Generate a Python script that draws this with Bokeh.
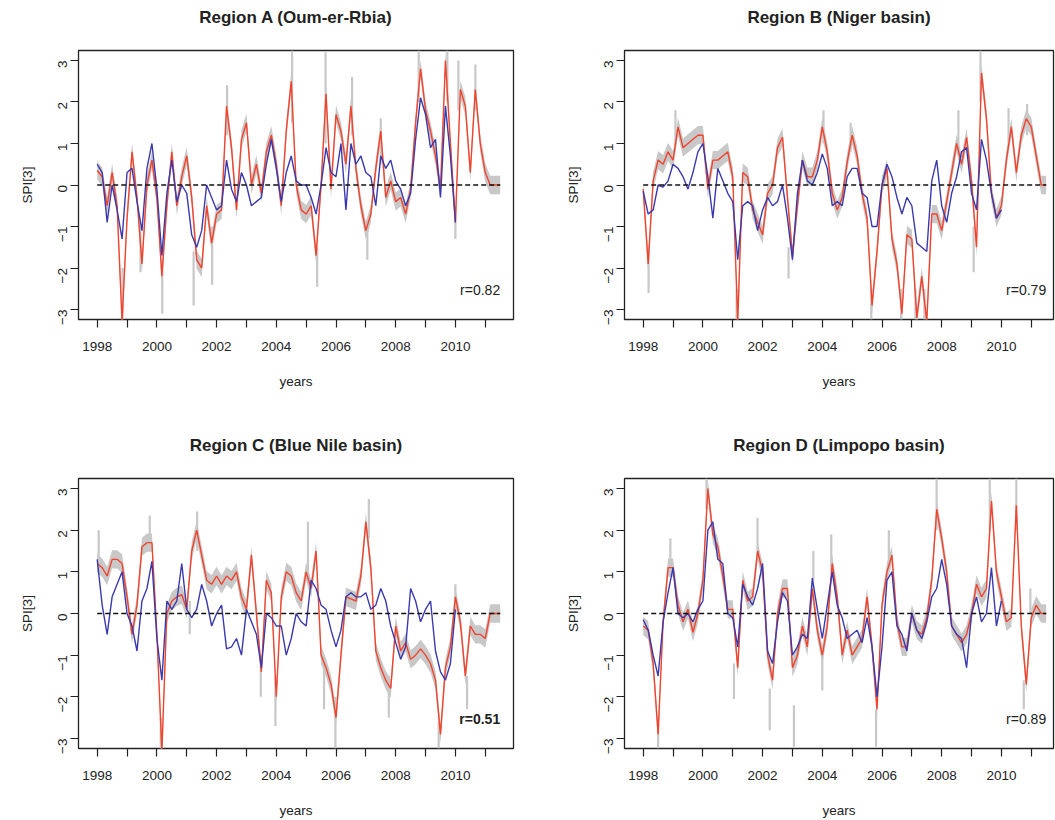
import math
from bokeh.plotting import figure
from bokeh.layouts import column, row
from bokeh.models import Range1d, FixedTicker, Label, Title
from bokeh.embed import file_html
from bokeh.resources import INLINE

FONT = "Liberation Sans"

# ---------------- data (SPI[3], bi-monthly readings from 1998.0) ----------------
n_red, n_blue = 82, 73
years_red = [1998 + i / 6 for i in range(n_red)]
years_blue = years_red[:n_blue]
tick_years = list(range(1998, 2012))
tick_labels = {y: (str(y) if y % 2 == 0 else "") for y in tick_years}
y_ticks = [-3, -2, -1, 0, 1, 2, 3]

red_A = [0.35, 0.2, -0.5, 0.3, -0.5, -3.3, -0.8, 0.8, -0.3, -1.9,
         0.0, 0.6, -0.3, -2.2, -0.5, 0.8, -0.5, 0.2, 0.7, -0.3,
         -1.8, -2.0, -0.5, -1.4, -0.7, -0.6, 1.9, 0.9, -0.6, 1.1,
         1.5, 0.0, 0.5, -0.2, 0.8, 1.2, 0.5, -0.5, 1.3, 2.5,
         0.0, -0.6, -0.7, -0.5, -1.7, 0.0, 2.2, -0.1, 1.7, 1.3,
         0.5, 1.9, 0.4, -0.5, -1.1, -0.7, 0.4, 1.3, -0.3, 0.1,
         -0.4, -0.3, -0.7, -0.1, 1.5, 2.8, 1.8, 1.3, 0.7, -0.1,
         3.0, 1.0, -0.9, 2.3, 1.9, 0.3, 2.3, 1.0, 0.3, 0.0,
         0.0, 0.0]
blue_A = [0.5, 0.3, -0.9, 0.0, -0.6, -1.3, 0.3, 0.4, -0.4, -1.1,
          0.4, 1.0, -0.1, -1.7, -0.2, 0.6, -0.4, 0.0, -0.2, -1.2,
          -1.5, -1.1, 0.0, -0.3, -0.6, -0.5, 0.6, -0.1, -0.4, 0.3,
          0.0, -0.5, -0.4, -0.3, 0.5, 1.1, 0.4, -0.4, 0.3, 0.7,
          0.1, 0.0, 0.0, -0.3, -0.7, 0.0, 0.9, 0.3, 0.2, 1.0,
          -0.6, 1.0, 0.5, 0.7, 0.3, 0.2, -0.5, 0.7, 0.4, 0.6,
          0.1, -0.1, -0.5, -0.2, 1.1, 2.1, 1.7, 0.9, 1.1, -0.3,
          1.9, 0.7, -0.9]
spike_x_A = [1998.85, 1999.45, 2000.18, 2001.23, 2001.85, 2002.35, 2004.53, 2005.37, 2005.65,
             2006.54, 2007.05, 2007.5, 2008.77, 2009.73, 2010.0, 2010.1, 2010.67]
spike_lo_A = [-3.24, -2.1, -3.1, -2.9, -2.4, 1.2, 1.5, -2.45, 1.0, 1.2, -1.8, 0.5, 2.0, 2.0, -1.3, 1.8, 1.8]
spike_hi_A = [-2.0, -1.0, -1.8, -1.6, -1.0, 2.4, 3.24, -1.5, 3.2, 2.6, -1.0, 1.6, 3.24, 3.24, -0.5, 3.0, 2.9]

red_B = [-0.1, -1.9, 0.1, 0.6, 0.5, 0.8, 0.6, 1.4, 0.9, 1.0,
         1.1, 1.2, 1.2, -0.1, 0.6, 0.6, 0.7, 0.8, 0.2, -3.3,
         0.3, 0.2, -0.6, -0.9, -1.2, -0.2, 0.0, 0.9, 1.15, -0.3,
         -1.7, -0.5, 0.6, 0.2, 0.2, 0.6, 1.4, 0.8, -0.2, -0.6,
         -0.3, 0.55, 1.2, 0.7, -0.2, -0.8, -2.9, -1.6, 0.0, 0.4,
         -1.3, -1.9, -3.1, -1.2, -1.3, -3.2, -2.2, -3.3, -0.7, -0.7,
         -1.1, -0.4, 0.3, 1.0, 0.5, 1.15, 0.1, -1.5, 2.7, 1.6,
         -0.2, -0.8, -0.5, 0.6, 1.4, 0.3, 1.2, 1.6, 1.4, 0.7,
         0.0, 0.0]
blue_B = [-0.15, -0.7, -0.6, 0.0, -0.05, 0.1, 0.5, 0.4, 0.2, -0.1,
          0.3, 0.8, 1.0, 0.2, -0.8, 0.4, 0.1, -0.2, -0.4, -1.8,
          -0.5, -0.4, -0.5, -1.1, -0.6, -0.3, -0.5, -0.4, 0.0, -0.8,
          -1.8, -0.2, 0.6, 0.1, 0.0, 0.3, 0.75, 0.4, -0.5, -0.4,
          -0.5, 0.2, 0.4, 0.4, -0.2, -0.3, -1.0, -1.0, 0.0, 0.5,
          0.2, -0.3, -0.7, -0.3, -0.5, -1.4, -1.5, -1.6, 0.1, 0.6,
          -0.5, -0.9, -0.2, 0.2, 0.8, 0.9, -0.2, -0.6, 1.1, 0.6,
          -0.2, -0.8, -0.6]
spike_x_B = [1998.18, 1999.08, 2001.13, 2002.87, 2004.04, 2004.95, 2005.64, 2006.64, 2007.12,
             2007.42, 2008.56, 2009.07, 2009.3, 2010.24, 2010.86]
spike_lo_B = [-2.6, 1.0, -3.24, -2.25, 1.0, 0.8, -3.24, -3.24, -3.24, -3.24, 0.8, -2.1, 2.0, 1.0, 1.2]
spike_hi_B = [-1.5, 1.8, -2.5, -1.5, 1.8, 1.5, -2.5, -2.5, -2.5, -2.5, 1.8, -1.0, 3.24, 1.85, 1.95]

red_C = [1.2, 1.1, 0.9, 1.3, 1.3, 1.2, 0.4, -0.5, 0.2, 1.6,
         1.7, 1.7, -0.5, -3.3, 0.0, 0.3, 0.4, 0.45, 0.1, 1.5,
         2.0, 1.4, 0.8, 0.7, 0.9, 0.7, 0.9, 0.8, 1.0, 0.4,
         0.1, 1.4, 0.0, -1.4, 0.8, 0.5, -2.0, 0.4, 1.0, 0.9,
         0.5, 0.3, 1.0, 0.6, 1.5, -1.0, -1.3, -1.7, -2.5, -1.0,
         0.4, 0.35, 0.3, 0.9, 2.2, 1.1, -0.9, -1.3, -1.6, -1.8,
         -0.3, -0.9, -0.7, -1.1, -1.0, -0.85, -1.0, -1.2, -1.6, -2.9,
         -1.3, -0.8, 0.4, -0.2, -1.5, -0.3, -0.5, -0.5, -0.6, 0.0,
         0.0, 0.0]
blue_C = [1.3, 0.2, -0.5, 0.4, 0.7, 1.0, 0.0, -0.3, -0.9, 0.3,
          0.6, 1.25, -0.6, -1.6, 0.3, 0.1, 0.3, 1.2, 0.1, -0.1,
          0.1, 0.7, 0.3, -0.3, 0.0, 0.2, -0.85, -0.8, -0.6, -1.0,
          0.1, -0.2, -0.5, -1.3, 0.0, -0.1, -0.3, -0.3, -1.0, -0.6,
          0.0, -0.2, -0.3, 0.8, 0.6, 0.2, 0.1, -0.4, -0.8, -0.4,
          0.4, 0.5, 0.4, 0.4, 0.5, 0.1, 0.2, 0.6, 0.3, -0.3,
          -0.7, -1.1, -0.8, 0.6, 0.3, -0.2, 0.1, 0.3, -0.9, -1.4,
          -1.6, -1.2, 0.1]
spike_x_C = [1998.05, 1999.76, 2000.13, 2001.1, 2001.35, 2003.48, 2003.97, 2005.06, 2005.6,
             2005.98, 2007.1, 2007.77, 2009.44, 2010.0, 2010.39]
spike_lo_C = [1.0, 1.5, -3.24, -0.5, 1.5, -2.0, -2.7, 1.0, -2.3, -3.24, 1.8, -2.5, -3.24, 0.0, -2.3]
spike_hi_C = [2.0, 2.35, -2.5, 0.3, 2.45, -1.0, -1.5, 2.2, -1.0, -2.0, 2.75, -1.5, -2.6, 0.7, -1.5]

red_D = [-0.3, -0.4, -1.2, -2.9, -0.2, 1.1, 1.1, 0.2, -0.2, 0.1,
         -0.45, 0.0, 0.8, 3.0, 1.9, 1.6, 0.9, 0.1, 0.1, -1.3,
         0.8, 0.3, 0.4, 1.5, 1.0, -1.0, -1.6, 0.0, 0.6, 0.6,
         -1.3, -1.0, -0.3, -0.8, 0.6, -0.4, -1.0, -0.3, 1.2, 0.4,
         -1.0, -0.4, -1.0, -0.8, -0.6, 0.4, -0.8, -2.3, 0.2, 1.0,
         1.4, -0.2, -0.8, -0.8, 0.0, -0.4, -0.5, -0.1, 0.8, 2.5,
         1.8, 1.0, -0.3, -0.5, -0.7, -0.5, 0.0, 0.7, 0.4, 0.6,
         2.7, 1.0, 0.4, -0.2, -0.1, 2.6, -0.3, -1.7, -0.1, 0.2,
         0.0, 0.0]
blue_D = [-0.15, -0.4, -1.0, -1.5, -0.2, 0.5, 1.1, 0.0, -0.1, 0.0,
          -0.2, 0.1, 0.3, 2.0, 2.2, 1.3, 1.2, 0.0, -0.1, -0.8,
          0.7, 0.4, 0.2, 0.6, 1.2, -0.9, -1.2, -0.2, 0.5, 0.3,
          -1.0, -0.8, -0.5, -0.6, 0.85, 0.1, -0.6, 0.2, 1.0, 0.2,
          -0.1, -0.6, -0.5, -0.4, -0.7, -0.1, -0.8, -2.0, -0.8, 0.8,
          1.0, -0.3, -0.5, -0.9, 0.0, -0.4, -0.6, -0.2, 0.4, 0.6,
          1.3, 0.7, -0.3, -0.5, -0.6, -1.3, 0.0, 0.4, -0.2, 0.0,
          1.1, -0.3, 0.3]
spike_x_D = [1998.5, 1998.91, 2000.12, 2001.04, 2001.83, 2002.24, 2003.05, 2003.7, 2004.0, 2004.3,
             2005.8, 2006.23, 2007.83, 2009.61, 2010.5, 2010.75, 2010.97]
spike_lo_D = [-3.24, 1.0, 2.5, -2.05, 1.5, -2.8, -3.2, 0.8, -1.85, 1.0, -3.2, 1.2, 2.0, 2.0, 2.0, -2.3, 0.0]
spike_hi_D = [-2.5, 1.8, 3.24, -1.2, 2.3, -1.8, -2.2, 1.5, -1.0, 1.9, -2.3, 2.0, 3.24, 3.24, 3.24, -1.6, 0.6]

titles = ["Region A (Oum-er-Rbia)", "Region B (Niger basin)",
          "Region C (Blue Nile basin)", "Region D (Limpopo basin)"]
r_texts = ["r=0.82", "r=0.79", "r=0.51", "r=0.89"]

RED = "#F2432C"
BLUE = "#3A3AAE"
GRAY = "#C8C8C8"
BAND = 0.22
PX_PER_YEAR = 29.85
Y_LO, Y_HI = -3.24, 3.24


def panel(title, red, blue, sx, slo, shi, rtext, rbold, width, bl, br, height, bt, bb):
    plot_w = width - bl - br
    x0 = 1998 - 18.7 / PX_PER_YEAR
    x1 = x0 + plot_w / PX_PER_YEAR
    p = figure(width=width, height=height, x_range=Range1d(x0, x1), y_range=Range1d(Y_LO, Y_HI),
               output_backend="svg", toolbar_location=None, title=None,
               min_border_left=bl, min_border_right=br, min_border_top=bt, min_border_bottom=bb)
    # spacer between frame and title, then the title itself
    p.add_layout(Title(text=" ", text_font_size="15px", standoff=0), "above")
    p.add_layout(Title(text=title, align="center", text_font=FONT, text_font_size="17px",
                       text_font_style="bold", text_color="#222222"), "above")
    p.outline_line_color = "#222222"
    p.outline_line_width = 1.3
    p.xgrid.visible = False
    p.ygrid.visible = False
    p.background_fill_color = "white"
    p.border_fill_color = "white"

    for ax in (p.xaxis[0], p.yaxis[0]):
        ax.axis_line_color = None
        ax.major_tick_line_color = "#222222"
        ax.major_tick_line_width = 1.2
        ax.major_tick_out = 8
        ax.major_tick_in = 0
        ax.minor_tick_line_color = None
        ax.major_label_text_font = FONT
        ax.major_label_text_font_size = "13.5px"
        ax.major_label_text_color = "#222222"
        ax.axis_label_text_font = FONT
        ax.axis_label_text_font_size = "13.5px"
        ax.axis_label_text_font_style = "normal"
        ax.axis_label_text_color = "#222222"

    p.xaxis.ticker = FixedTicker(ticks=tick_years)
    p.xaxis.major_label_overrides = tick_labels
    p.xaxis.major_label_standoff = 14
    p.xaxis.axis_label = "years"
    p.xaxis.axis_label_standoff = 20

    p.yaxis.ticker = FixedTicker(ticks=y_ticks)
    p.yaxis.major_label_orientation = math.pi / 2
    p.yaxis.major_label_standoff = 8
    p.yaxis.axis_label = "SPI[3]"
    p.yaxis.axis_label_standoff = 16

    lo = [v - BAND for v in red]
    hi = [v + BAND for v in red]
    p.varea(x=years_red, y1=lo, y2=hi, fill_color=GRAY)
    p.segment(x0=sx, y0=slo, x1=sx, y1=shi, line_color=GRAY, line_width=2.2)
    p.line(x=years_red, y=red, line_color=RED, line_width=1.4)
    p.line(x=years_blue, y=blue, line_color=BLUE, line_width=1.4)
    p.line(x=[years_red[0], years_red[-1]], y=[0, 0], line_color="#111111",
           line_width=1.4, line_dash="5 3")

    p.add_layout(Label(x=years_red[-1], y=-2.52, text=rtext, text_align="right",
                       text_baseline="middle", text_font=FONT, text_font_size="14px",
                       text_font_style="bold" if rbold else "normal", text_color="#222222"))
    return p


pA = panel(titles[0], red_A, blue_A, spike_x_A, spike_lo_A, spike_hi_A, r_texts[0], False,
           530, 78, 17, 418, 50, 99)
pB = panel(titles[1], red_B, blue_B, spike_x_B, spike_lo_B, spike_hi_B, r_texts[1], False,
           525, 94, 2, 418, 50, 99)
pC = panel(titles[2], red_C, blue_C, spike_x_C, spike_lo_C, spike_hi_C, r_texts[2], True,
           530, 78, 17, 402, 60, 72)
pD = panel(titles[3], red_D, blue_D, spike_x_D, spike_lo_D, spike_hi_D, r_texts[3], False,
           525, 94, 2, 402, 60, 72)

layout = column(row(pA, pB), row(pC, pD))
open("out.html", "w").write(file_html(layout, INLINE))
